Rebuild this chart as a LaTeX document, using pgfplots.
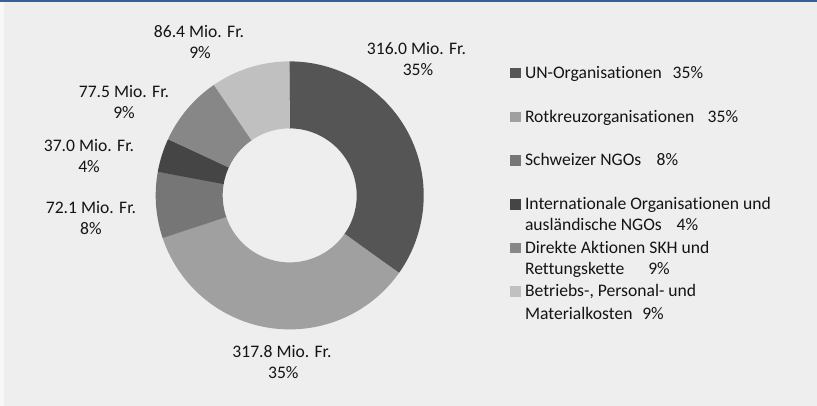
\documentclass[border=0pt]{standalone}
\usepackage{fontspec}
\setmainfont{Carlito}[Ligatures=NoCommon]
\usepackage{pgfplots}
\pgfplotsset{compat=1.18}
\definecolor{bg}{HTML}{EEEEEE}
\definecolor{strip}{HTML}{F7F7F7}
\definecolor{topline}{HTML}{3A5F96}
\definecolor{txt}{HTML}{141414}
\definecolor{cUN}{HTML}{555555}
\definecolor{cRK}{HTML}{A0A0A0}
\definecolor{cCH}{HTML}{767676}
\definecolor{cIO}{HTML}{454545}
\definecolor{cDA}{HTML}{878787}
\definecolor{cBK}{HTML}{C0C0C0}
\tikzset{lbl/.style={font=\fontsize{17.6pt}{21pt}\selectfont, text=txt, inner sep=0pt, outer sep=0pt}}
\begin{document}
\begin{tikzpicture}
% values in Mio. Fr.
\def\vA{316.0}% UN-Organisationen
\def\vB{317.8}% Rotkreuzorganisationen
\def\vC{72.1}%  Schweizer NGOs
\def\vD{37.0}%  Internationale Organisationen
\def\vE{77.5}%  Direkte Aktionen
\def\vF{86.4}%  Betriebs-, Personal- und Materialkosten
\pgfmathsetmacro\tot{\vA+\vB+\vC+\vD+\vE+\vF}
\pgfmathsetmacro\aO{90}
\pgfmathsetmacro\aA{\aO-\vA/\tot*360}
\pgfmathsetmacro\aB{\aA-\vB/\tot*360}
\pgfmathsetmacro\aC{\aB-\vC/\tot*360}
\pgfmathsetmacro\aD{\aC-\vD/\tot*360}
\pgfmathsetmacro\aE{\aD-\vE/\tot*360}
\pgfmathsetmacro\aF{\aE-\vF/\tot*360}
\pgfmathsetmacro\sO{\aO+0.25}
\pgfmathsetmacro\sA{\aA+0.25}
\pgfmathsetmacro\sB{\aB+0.25}
\pgfmathsetmacro\sC{\aC+0.25}
\pgfmathsetmacro\sD{\aD+0.25}
\pgfmathsetmacro\sE{\aE+0.25}
\begin{axis}[width=817pt,height=406pt,scale only axis,
  xmin=0,xmax=817,ymin=0,ymax=406,y dir=reverse,
  hide axis,clip=false]
\fill[bg] (axis cs:0,0) rectangle (axis cs:817,406);
\fill[strip] (axis cs:0,0) rectangle (axis cs:4,406);
\fill[topline] (axis cs:0,0) rectangle (axis cs:817,1.6);
% donut slices
\addplot[draw=cUN, line width=67pt, domain=\aA:\sO, samples=120, no markers] ({289.7+100.5*cos(x)},{195.4-100.5*sin(x)});
\addplot[draw=cRK, line width=67pt, domain=\aB:\sA, samples=120, no markers] ({289.7+100.5*cos(x)},{195.4-100.5*sin(x)});
\addplot[draw=cCH, line width=67pt, domain=\aC:\sB, samples=40, no markers] ({289.7+100.5*cos(x)},{195.4-100.5*sin(x)});
\addplot[draw=cIO, line width=67pt, domain=\aD:\sC, samples=30, no markers] ({289.7+100.5*cos(x)},{195.4-100.5*sin(x)});
\addplot[draw=cDA, line width=67pt, domain=\aE:\sD, samples=40, no markers] ({289.7+100.5*cos(x)},{195.4-100.5*sin(x)});
\addplot[draw=cBK, line width=67pt, domain=\aF:\sE, samples=40, no markers] ({289.7+100.5*cos(x)},{195.4-100.5*sin(x)});
% data labels
\node[lbl,anchor=base] at (axis cs:416.5,54.8) {316.0 Mio. Fr.};
\node[lbl,anchor=base] at (axis cs:418,75.5) {35\%};
\node[lbl,anchor=base] at (axis cs:282,357.2) {317.8 Mio. Fr.};
\node[lbl,anchor=base] at (axis cs:283.3,378.8) {35\%};
\node[lbl,anchor=base] at (axis cs:91,213.5) {72.1 Mio. Fr.};
\node[lbl,anchor=base] at (axis cs:91,234.5) {8\%};
\node[lbl,anchor=base] at (axis cs:89,151.5) {37.0 Mio. Fr.};
\node[lbl,anchor=base] at (axis cs:89,172.2) {4\%};
\node[lbl,anchor=base] at (axis cs:124,97.2) {77.5 Mio. Fr.};
\node[lbl,anchor=base] at (axis cs:124,118.5) {9\%};
\node[lbl,anchor=base] at (axis cs:199,37.2) {86.4 Mio. Fr.};
\node[lbl,anchor=base] at (axis cs:200,58.2) {9\%};
% legend
\node[lbl,anchor=south west] at (axis cs:510,78.3) {\textcolor{cUN}{\rule{10.5pt}{10.5pt}}};
\node[lbl,anchor=base west] at (axis cs:525,78.3) {UN-Organisationen};
\node[lbl,anchor=base west] at (axis cs:672.7,78.3) {35\%};
\node[lbl,anchor=south west] at (axis cs:510,122.3) {\textcolor{cRK}{\rule{10.5pt}{10.5pt}}};
\node[lbl,anchor=base west] at (axis cs:525,122.3) {Rotkreuzorganisationen};
\node[lbl,anchor=base west] at (axis cs:707.7,122.3) {35\%};
\node[lbl,anchor=south west] at (axis cs:510,166) {\textcolor{cCH}{\rule{10.5pt}{10.5pt}}};
\node[lbl,anchor=base west] at (axis cs:525,166) {Schweizer NGOs};
\node[lbl,anchor=base west] at (axis cs:656.7,166) {8\%};
\node[lbl,anchor=south west] at (axis cs:510,210) {\textcolor{cIO}{\rule{10.5pt}{10.5pt}}};
\node[lbl,anchor=base west] at (axis cs:525,210) {Internationale Organisationen und};
\node[lbl,anchor=base west] at (axis cs:525,231) {ausländische NGOs};
\node[lbl,anchor=base west] at (axis cs:676.7,231) {4\%};
\node[lbl,anchor=south west] at (axis cs:510,253.3) {\textcolor{cDA}{\rule{10.5pt}{10.5pt}}};
\node[lbl,anchor=base west] at (axis cs:525,253.3) {Direkte Aktionen SKH und};
\node[lbl,anchor=base west] at (axis cs:525,275) {Rettungskette};
\node[lbl,anchor=base west] at (axis cs:648.3,275) {9\%};
\node[lbl,anchor=south west] at (axis cs:510,296.7) {\textcolor{cBK}{\rule{10.5pt}{10.5pt}}};
\node[lbl,anchor=base west] at (axis cs:525,296.7) {Betriebs-, Personal- und};
\node[lbl,anchor=base west] at (axis cs:525,319.3) {Materialkosten};
\node[lbl,anchor=base west] at (axis cs:642.3,319.3) {9\%};
\end{axis}
\end{tikzpicture}
\end{document}
